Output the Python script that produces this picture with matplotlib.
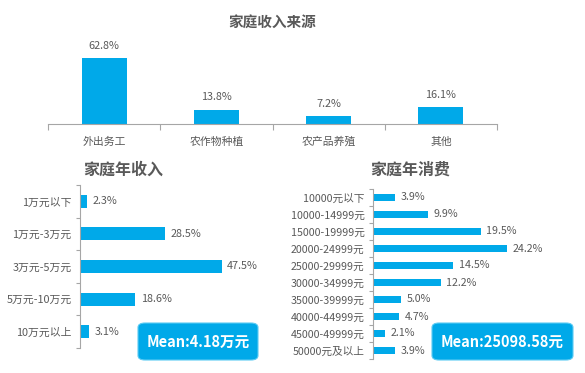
import matplotlib
matplotlib.use('Agg')
import matplotlib.pyplot as plt
from matplotlib.patches import FancyBboxPatch
import numpy as np

plt.rcParams['font.family'] = ['Noto Sans CJK SC', 'DejaVu Sans']

# data
src_cats = ['外出务工', '农作物种植', '农产品养殖', '其他']
src_vals = [62.8, 13.8, 7.2, 16.1]

inc_cats = ['1万元以下', '1万元-3万元', '3万元-5万元', '5万元-10万元', '10万元以上']
inc_vals = [2.3, 28.5, 47.5, 18.6, 3.1]
inc_mean = 'Mean:4.18万元'

exp_cats = ['10000元以下', '10000-14999元', '15000-19999元', '20000-24999元',
            '25000-29999元', '30000-34999元', '35000-39999元', '40000-44999元',
            '45000-49999元', '50000元及以上']
exp_vals = [3.9, 9.9, 19.5, 24.2, 14.5, 12.2, 5.0, 4.7, 2.1, 3.9]
exp_mean = 'Mean:25098.58元'

BLUE = '#00A9E9'
GREY = '#595959'
AXC = '#A6A6A6'
W, H = 585, 373

fig = plt.figure(figsize=(W / 100, H / 100), dpi=100)


def px_axes(x0, y0, x1, y1):
    # pixel box (top-left origin) -> figure axes
    return fig.add_axes([x0 / W, 1 - y1 / H, (x1 - x0) / W, (y1 - y0) / H])


def hide(ax, keep):
    for k, s in ax.spines.items():
        if k == keep:
            s.set_color(AXC)
            s.set_linewidth(0.8)
        else:
            s.set_visible(False)


# top chart: income source
ax = px_axes(48, 50.5, 497, 124)
x = np.arange(len(src_cats))
ax.bar(x, src_vals, width=0.4, color=BLUE)
ax.set_xlim(-0.5, len(src_cats) - 0.5)
ax.set_ylim(0, 70)
hide(ax, 'bottom')
ax.set_yticks([])
ax.set_xticks(x)
ax.set_xticklabels(src_cats, fontsize=7.8, color=GREY)
ax.tick_params(axis='x', which='major', length=0, pad=9)
ax.set_xticks(np.arange(-0.5, len(src_cats)), minor=True)
ax.tick_params(axis='x', which='minor', length=4, color=AXC, width=0.8)
for xi, v in zip(x, src_vals):
    ax.annotate(f'{v}%', (xi, v), xytext=(0, 9), textcoords='offset points',
                ha='center', va='center', fontsize=7.8, color=GREY)
fig.text(272 / W, 1 - 22 / H, '家庭收入来源', ha='center', va='center',
         fontsize=10.5, fontweight='bold', color=GREY)


def hbar(box, cats, vals, xmax, fs):
    ax = px_axes(*box)
    y = np.arange(len(cats))
    ax.barh(y, vals, height=0.4, color=BLUE)
    ax.set_ylim(len(cats) - 0.5, -0.5)
    ax.set_xlim(0, xmax)
    hide(ax, 'left')
    ax.set_xticks([])
    ax.set_yticks(y)
    ax.set_yticklabels(cats, fontsize=fs, color=GREY)
    ax.tick_params(axis='y', which='major', length=0, pad=6)
    ax.set_yticks(np.arange(-0.5, len(cats)), minor=True)
    ax.tick_params(axis='y', which='minor', length=3, color=AXC, width=0.8)
    for yi, v in zip(y, vals):
        ax.annotate(f'{v:.1f}%', (v, yi), xytext=(4, 0), textcoords='offset points',
                    ha='left', va='center', fontsize=fs, color=GREY)
    return ax


def mean_box(x0, y0, x1, y1, txt):
    box = FancyBboxPatch((x0 / W, 1 - y1 / H), (x1 - x0) / W, (y1 - y0) / H,
                         boxstyle='round,pad=0,rounding_size=0.012',
                         transform=fig.transFigure, facecolor=BLUE,
                         edgecolor='#5CCBF3', linewidth=0.8)
    fig.patches.append(box)
    fig.text((x0 + x1) / 2 / W, 1 - (y0 + y1) / 2 / H, txt, ha='center',
             va='center', fontsize=10.5, fontweight='bold', color='white')


hbar((80, 185, 229, 348), inc_cats, inc_vals, 50, 7.8)
fig.text(83 / W, 1 - 170 / H, '家庭年收入', ha='left', va='center',
         fontsize=11.5, fontweight='bold', color=GREY)
mean_box(138, 323, 258, 360, inc_mean)

hbar((373, 189, 539, 359), exp_cats, exp_vals, 30, 7.7)
fig.text(370 / W, 1 - 170 / H, '家庭年消费', ha='left', va='center',
         fontsize=11.5, fontweight='bold', color=GREY)
mean_box(432, 323, 573, 360, exp_mean)

fig.savefig('out.png', dpi=100, facecolor='white')
